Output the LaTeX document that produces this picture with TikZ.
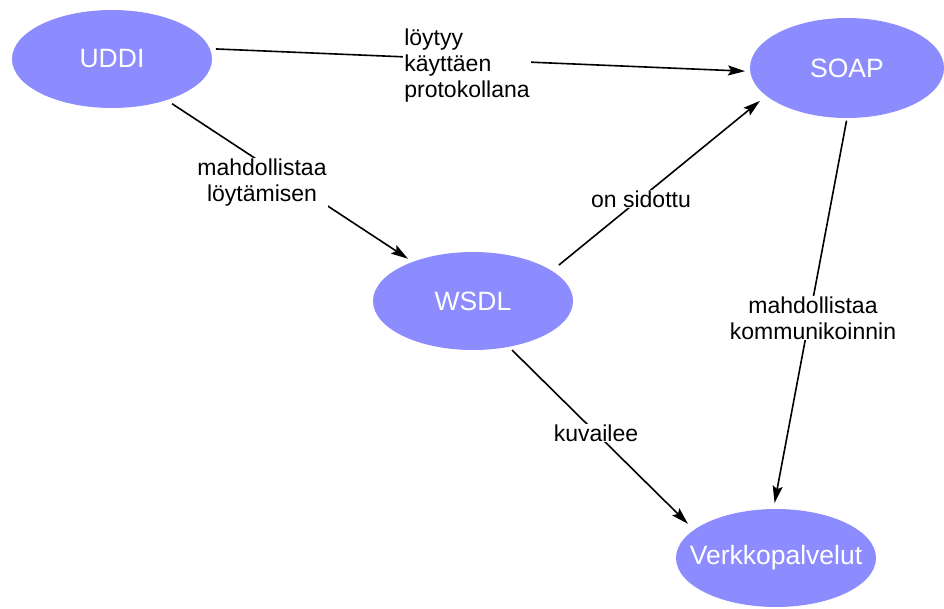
\documentclass[tikz,border=0pt]{standalone}
\usepackage{fontspec}
\setmainfont{Liberation Sans}
\usetikzlibrary{shapes.geometric,arrows.meta}
\definecolor{conceptblue}{HTML}{8C8CFF}
\newcommand{\conceptfont}{\fontsize{26.5}{30}\selectfont}
\newcommand{\tagfont}{\fontsize{23}{26}\selectfont}
\begin{document}
\begin{tikzpicture}[x=1pt,y=-1pt,
  concept/.style={ellipse, fill=conceptblue, draw=none, inner sep=0pt,
    minimum width=200pt, minimum height=98pt},
  conceptname/.style={text=white, font=\conceptfont, inner sep=0pt},
  link/.style={line width=1.6pt, -{Stealth[length=17pt,width=10pt,inset=3pt]}},
  tag/.style={fill=white, inner sep=1pt, font=\tagfont},
]
\useasboundingbox (0,0) rectangle (944,608);

% concepts
\node[concept, label={[conceptname]center:UDDI}] (uddi) at (112,59) {};
\node[concept, minimum width=194pt, minimum height=100pt,
      label={[conceptname]center:SOAP}] (soap) at (847,68) {};
\node[concept, label={[conceptname]center:WSDL}] (wsdl) at (473,301) {};
\node[concept, label={[conceptname]center:Verkkopalvelut}] (verkko) at (776,558) {};

% relations
\draw[link, shorten <=6pt, shorten >=5pt] (uddi.6) -- (soap.182);
\draw[link, shorten <=6.5pt, shorten >=5.5pt] (uddi.-37) -- (wsdl.147);
\draw[link, shorten <=9pt, shorten >=8pt] (wsdl.21) -- (soap.199);
\draw[link, shorten <=4.5pt, shorten >=8.5pt] (wsdl.-52) -- (verkko.161);
\draw[link, shorten <=2.5pt, shorten >=6pt] (soap.270) -- (verkko.93);

% relation labels
\node[tag, align=left] (lprot) at (467,66) {löytyy\\käyttäen\\protokollana};
\node[tag, align=center] (lfind) at (262,183) {mahdollistaa\\löytämisen};
\node[tag] (lbound) at (641,199) {on sidottu};
\node[tag] (ldesc) at (596,433) {kuvailee};
\node[tag, align=center] (lcomm) at (813,318) {mahdollistaa\\kommunikoinnin};
\end{tikzpicture}
\end{document}
